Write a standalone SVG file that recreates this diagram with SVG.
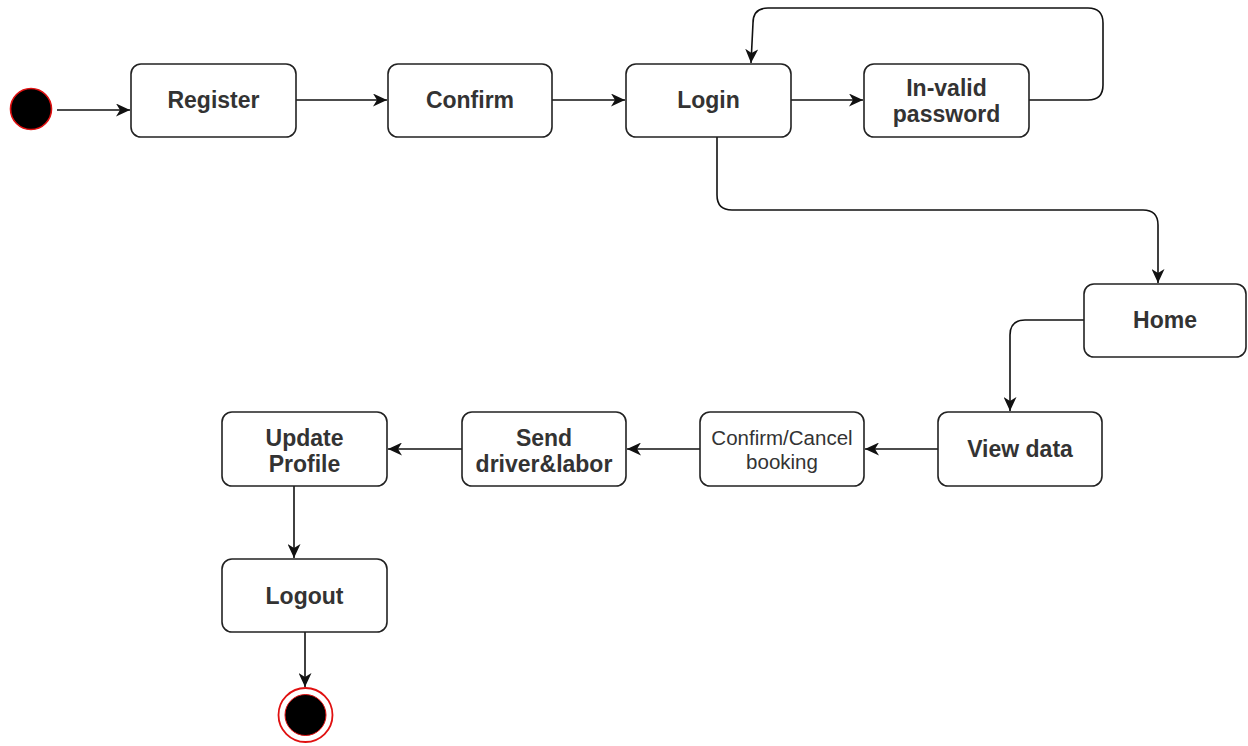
<svg xmlns="http://www.w3.org/2000/svg" width="1248" height="746" viewBox="0 0 1248 746">
  <style>
    .box { fill: #ffffff; stroke: #222222; stroke-width: 1.6; }
    .lbl { font-family: "Liberation Sans", Arial, sans-serif; font-size: 23px; font-weight: bold; fill: #333333; text-anchor: middle; }
    .lbl-n { font-family: "Liberation Sans", Arial, sans-serif; font-size: 20.5px; fill: #333333; text-anchor: middle; }
    .edge { fill: none; stroke: #111111; stroke-width: 1.6; marker-end: url(#arrow); }
  </style>
  <defs>
    <marker id="arrow" viewBox="0 0 14 13" refX="14" refY="6.5" markerWidth="14" markerHeight="13" markerUnits="userSpaceOnUse" orient="auto">
      <path d="M0,0 L14,6.5 L0,13 L4,6.5 z" fill="#111111"/>
    </marker>
  </defs>

  <rect width="1248" height="746" fill="#ffffff"/>

  <!-- connectors -->
  <g id="connectors">
    <path class="edge" d="M57,110 H130"/>
    <path class="edge" d="M296,100 H387"/>
    <path class="edge" d="M552,100 H625"/>
    <path class="edge" d="M791,100 H863"/>
    <path class="edge" d="M1029,100 H1088 Q1103,100 1103,85 V23 Q1103,8 1088,8 H768 Q753,8 753,23 L751,63"/>
    <path class="edge" d="M717,137 V195 Q717,210 732,210 H1143 Q1158,210 1158,225 V283"/>
    <path class="edge" d="M1084,320 H1025 Q1010,320 1010,335 V411"/>
    <path class="edge" d="M938,449 H865"/>
    <path class="edge" d="M700,449 H627"/>
    <path class="edge" d="M462,449 H388"/>
    <path class="edge" d="M294,486 V558"/>
    <path class="edge" d="M305,632 V687"/>
  </g>

  <!-- start state -->
  <g id="start">
    <circle cx="31" cy="109" r="20.5" fill="#000000" stroke="#e01010" stroke-width="1.6"/>
  </g>

  <g id="register">
    <rect class="box" x="131" y="64" width="165" height="73" rx="10"/>
    <text class="lbl" x="213.5" y="108">Register</text>
  </g>

  <g id="confirm">
    <rect class="box" x="388" y="64" width="164" height="73" rx="10"/>
    <text class="lbl" x="470" y="108">Confirm</text>
  </g>

  <g id="login">
    <rect class="box" x="626" y="64" width="165" height="73" rx="10"/>
    <text class="lbl" x="708.5" y="108">Login</text>
  </g>

  <g id="invalid-password">
    <rect class="box" x="864" y="64" width="165" height="73" rx="10"/>
    <text class="lbl" x="946.5" y="96">In-valid</text>
    <text class="lbl" x="946.5" y="122">password</text>
  </g>

  <g id="home">
    <rect class="box" x="1084" y="284" width="162" height="73" rx="10"/>
    <text class="lbl" x="1165" y="328">Home</text>
  </g>

  <g id="view-data">
    <rect class="box" x="938" y="412" width="164" height="74" rx="10"/>
    <text class="lbl" x="1020" y="457">View data</text>
  </g>

  <g id="confirm-cancel">
    <rect class="box" x="700" y="412" width="164" height="74" rx="10"/>
    <text class="lbl-n" x="782" y="445">Confirm/Cancel</text>
    <text class="lbl-n" x="782" y="469">booking</text>
  </g>

  <g id="send-driver">
    <rect class="box" x="462" y="412" width="164" height="74" rx="10"/>
    <text class="lbl" x="544" y="446">Send</text>
    <text class="lbl" x="544" y="472">driver&amp;labor</text>
  </g>

  <g id="update-profile">
    <rect class="box" x="222" y="412" width="165" height="74" rx="10"/>
    <text class="lbl" x="304.5" y="446">Update</text>
    <text class="lbl" x="304.5" y="472">Profile</text>
  </g>

  <g id="logout">
    <rect class="box" x="222" y="559" width="165" height="73" rx="10"/>
    <text class="lbl" x="304.5" y="604">Logout</text>
  </g>

  <!-- final state -->
  <g id="end">
    <circle cx="305.5" cy="715" r="27" fill="#ffffff" stroke="#e01010" stroke-width="1.8"/>
    <circle cx="305.5" cy="715" r="20.5" fill="#000000" stroke="#e01010" stroke-width="1"/>
  </g>
</svg>
